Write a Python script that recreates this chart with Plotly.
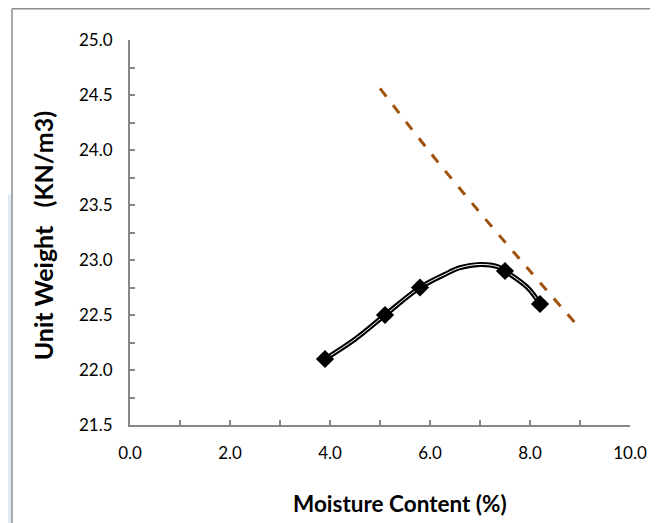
import plotly.graph_objects as go

# Compaction test data (markers)
moisture = [3.9, 5.1, 5.8, 7.5, 8.2]
unit_weight = [22.1, 22.5, 22.75, 22.9, 22.6]

# Smooth compaction curve
curve_moisture = [3.9, 4.5, 5.1, 5.8, 6.3, 6.6, 7.0, 7.35, 7.5, 7.95, 8.2]
curve_weight = [22.1, 22.28, 22.5, 22.75, 22.87, 22.93, 22.96, 22.94, 22.9, 22.75, 22.6]

# Zero-air-voids line
zav_moisture = [5.0, 6.0, 7.0, 8.0, 8.9]
zav_weight = [24.56, 23.98, 23.43, 22.90, 22.43]

x_ticks = [0, 2, 4, 6, 8, 10]
x_labels = ["0.0", "2.0", "4.0", "6.0", "8.0", "10.0"]
y_ticks = [21.5, 22.0, 22.5, 23.0, 23.5, 24.0, 24.5, 25.0]
y_labels = ["21.5", "22.0", "22.5", "23.0", "23.5", "24.0", "24.5", "25.0"]

FONT = "Lato"
AX = "#878787"

fig = go.Figure()

fig.add_trace(go.Scatter(
    x=zav_moisture, y=zav_weight, mode="lines",
    line=dict(color="#a0520c", width=3, dash="10px,11px", shape="spline"),
    hoverinfo="skip", showlegend=False))

fig.add_trace(go.Scatter(
    x=curve_moisture, y=curve_weight, mode="lines",
    line=dict(color="black", width=5, shape="spline", smoothing=1.0),
    hoverinfo="skip", showlegend=False))
fig.add_trace(go.Scatter(
    x=curve_moisture, y=curve_weight, mode="lines",
    line=dict(color="white", width=1, shape="spline", smoothing=1.0),
    hoverinfo="skip", showlegend=False))
fig.add_trace(go.Scatter(
    x=moisture, y=unit_weight, mode="markers",
    marker=dict(symbol="diamond", size=14, color="black"),
    showlegend=False))

fig.update_layout(
    width=650, height=515,
    margin=dict(l=122, r=28, t=32, b=98),
    paper_bgcolor="white", plot_bgcolor="white",
    font=dict(family=FONT, size=17, color="black"),
    xaxis=dict(range=[0, 10], tickvals=x_ticks, ticktext=x_labels,
               showgrid=False, zeroline=False, showline=True,
               linecolor=AX, linewidth=2, ticks="inside", ticklen=5,
               tickcolor=AX, tickwidth=2, ticklabelstandoff=12,
               minor=dict(dtick=1, ticks="inside", ticklen=5,
                          tickcolor=AX, tickwidth=2, showgrid=False)),
    yaxis=dict(range=[21.5, 25.0], tickvals=y_ticks, ticktext=y_labels,
               showgrid=False, zeroline=False, showline=True,
               linecolor=AX, linewidth=2, ticks="inside", ticklen=5,
               tickcolor=AX, tickwidth=2, ticklabelstandoff=12,
               minor=dict(dtick=0.25, ticks="inside", ticklen=5,
                          tickcolor=AX, tickwidth=2, showgrid=False)),
    annotations=[
        dict(text="<b>Moisture Content (%)</b>", xref="paper", yref="paper",
             x=0.54, y=-0.205, xanchor="center", yanchor="middle",
             showarrow=False, font=dict(family=FONT, size=22.5)),
        dict(text="<b>Unit Weight\u00a0\u00a0\u00a0(KN/m3)</b>", xref="paper", yref="paper",
             x=-0.174, y=0.49, xanchor="center", yanchor="middle",
             textangle=-90, showarrow=False, font=dict(family=FONT, size=25)),
    ],
    shapes=[
        dict(type="rect", xref="paper", yref="paper",
             x0=-0.26, x1=-0.238, y0=-0.26, y1=0.60,
             fillcolor="#dcedf9", line=dict(width=0), layer="below"),
        dict(type="line", xref="paper", yref="paper",
             x0=-0.236, x1=-0.236, y0=-0.26, y1=1.0812,
             line=dict(color="#8c8c8c", width=1.5)),
        dict(type="line", xref="paper", yref="paper",
             x0=-0.236, x1=1.06, y0=1.0812, y1=1.0812,
             line=dict(color="#8c8c8c", width=1.5)),
    ],
)

fig.write_html("out.html")
